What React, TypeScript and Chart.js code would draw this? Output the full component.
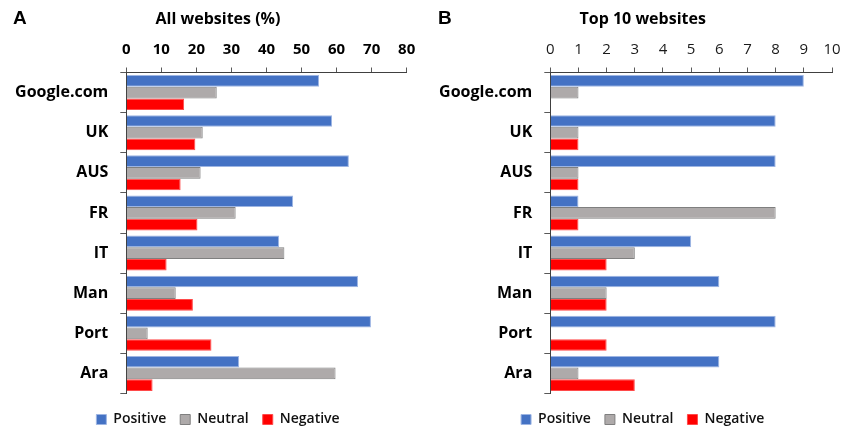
import React, { useEffect, useRef } from 'react';
import { Chart, registerables } from 'chart.js';

Chart.register(...registerables);

const categories = ['Google.com', 'UK', 'AUS', 'FR', 'IT', 'Man', 'Port', 'Ara'];
const seriesNames = ['Positive', 'Neutral', 'Negative'];

const allPositive = [55, 58.7, 63.5, 47.6, 43.6, 66.1, 69.8, 32.2];
const allNeutral = [25.8, 21.8, 21.2, 31.2, 45.1, 14.1, 6.1, 59.7];
const allNegative = [16.5, 19.7, 15.5, 20.3, 11.5, 19.0, 24.3, 7.5];
const allMax = 80;
const allStep = 10;

const topPositive = [9, 8, 8, 1, 5, 6, 8, 6];
const topNeutral = [1, 1, 1, 8, 3, 2, 0, 1];
const topNegative = [0, 1, 1, 1, 2, 2, 2, 3];
const topMax = 10;
const topStep = 1;

const FONT = '"Open Sans", Lato, "DejaVu Sans", sans-serif';
const fills = ['#4472C4', '#AEAAAA', '#FF0000'];
const borders = ['#9DB5E3', '#7F7F7F', '#FF4A4A'];

type PanelProps = {
  letter: string;
  title: string;
  values: number[][];
  max: number;
  step: number;
  boldTicks: boolean;
  padLeft: number;
  padRight: number;
  yWidth: number;
  letterX: number;
};

function Panel(props: PanelProps) {
  const ref = useRef<HTMLCanvasElement | null>(null);
  useEffect(() => {
    if (!ref.current) return;
    const helperPlugin = {
      id: 'panelHelper',
      afterLayout(chart: any) {
        // widen the label clip area of the category axis so long labels are not cut
        if (chart.scales.y) chart.scales.y.left = 0;
      },
      afterDraw(chart: any) {
        const ctx = chart.ctx;
        ctx.save();
        ctx.font = 'bold 19px "Liberation Sans", Arial, sans-serif';
        ctx.fillStyle = '#000';
        ctx.textBaseline = 'middle';
        ctx.textAlign = 'left';
        ctx.fillText(props.letter, props.letterX, 11);
        ctx.restore();
      },
    };
    const chart = new Chart(ref.current, {
      type: 'bar',
      data: {
        labels: categories,
        datasets: seriesNames.map((name, i) => ({
          label: name,
          data: props.values[i],
          backgroundColor: fills[i],
          borderColor: borders[i],
          borderWidth: 1,
          categoryPercentage: 0.875,
          barPercentage: 1,
        })),
      },
      options: {
        indexAxis: 'y',
        responsive: false,
        animation: false,
        layout: { padding: { left: props.padLeft, right: props.padRight, top: 0, bottom: 3.5 } },
        scales: {
          x: {
            position: 'top',
            min: 0,
            max: props.max,
            ticks: {
              stepSize: props.step,
              padding: 9,
              color: props.boldTicks ? '#000' : '#1a1a1a',
              font: { family: FONT, size: 15, weight: props.boldTicks ? 'bold' : 'normal' },
            },
            grid: { display: true, drawOnChartArea: false, drawTicks: true, tickLength: 5, color: '#595959' },
            border: { display: true, color: '#404040', width: 1 },
            afterFit(scale: any) {
              scale.height = 43.8;
            },
          },
          y: {
            ticks: {
              padding: 12,
              color: '#000',
              font: { family: FONT, size: 16, weight: 'bold' },
            },
            grid: { display: true, drawOnChartArea: false, drawTicks: true, tickLength: 6, color: '#595959', offset: true },
            border: { display: true, color: '#404040', width: 1 },
            afterFit(scale: any) {
              scale.width = props.yWidth;
            },
          },
        },
        plugins: {
          title: {
            display: true,
            text: props.title,
            color: '#000',
            font: { family: FONT, size: 16, weight: 'bold', lineHeight: 1.2 },
            padding: { top: 1.5, bottom: 0 },
          },
          legend: {
            display: true,
            position: 'bottom',
            title: { display: true, text: '', padding: 0, font: { size: 5, lineHeight: 1 } },
            labels: {
              boxWidth: 10,
              boxHeight: 10,
              padding: 14,
              color: '#111',
              font: { family: FONT, size: 14, weight: '600' },
            },
          },
          tooltip: { enabled: false },
        },
      },
      plugins: [helperPlugin],
    } as any);
    return () => chart.destroy();
  }, []);
  return <canvas ref={ref} width={421} height={432} style={{ display: 'block', width: 421, height: 432 }} />;
}

export default function App() {
  return (
    <div
      style={{
        position: 'fixed',
        left: 0,
        top: 0,
        width: 842,
        height: 432,
        overflow: 'hidden',
        background: '#fff',
      }}
    >
      <div style={{ position: 'absolute', left: 8, top: 8 }}>
        <Panel
          letter="A"
          title="All websites (%)"
          values={[allPositive, allNeutral, allNegative]}
          max={allMax}
          step={allStep}
          boldTicks={true}
          padLeft={21.3}
          padRight={22.3}
          yWidth={97}
          letterX={5}
        />
      </div>
      <div style={{ position: 'absolute', left: 429, top: 8 }}>
        <Panel
          letter="B"
          title="Top 10 websites"
          values={[topPositive, topNeutral, topNegative]}
          max={topMax}
          step={topStep}
          boldTicks={false}
          padLeft={24.4}
          padRight={18}
          yWidth={96.9}
          letterX={9}
        />
      </div>
    </div>
  );
}
